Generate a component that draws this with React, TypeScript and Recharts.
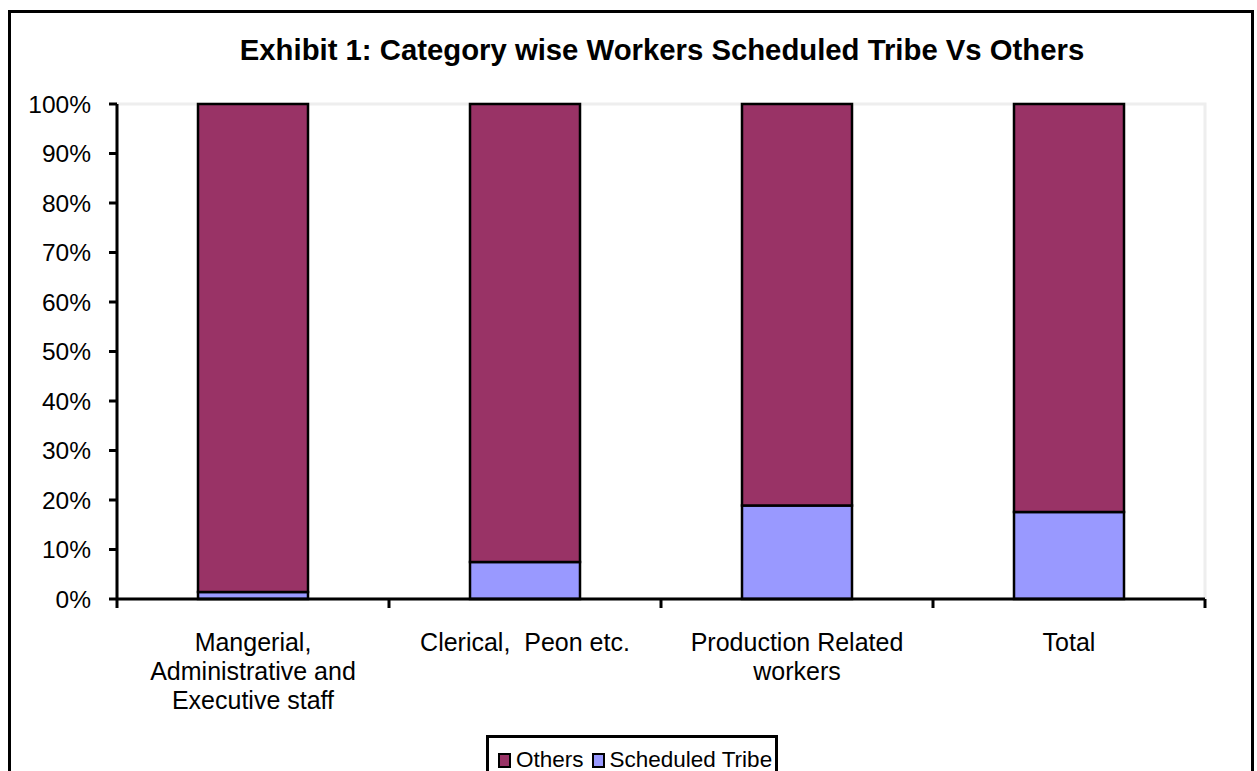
import React from "react";
import { BarChart, Bar, XAxis, YAxis, Legend, ReferenceArea } from "recharts";

const categories = [
  "Mangerial,\nAdministrative and\nExecutive staff",
  "Clerical,  Peon etc.",
  "Production Related\nworkers",
  "Total",
];
const scheduledTribe = [1.4, 7.5, 18.9, 17.6];
const others = [98.6, 92.5, 81.1, 82.4];
const yTicks = [0, 10, 20, 30, 40, 50, 60, 70, 80, 90, 100];
const seriesNames = { others: "Others", st: "Scheduled Tribe" };
const title = "Exhibit 1: Category wise Workers Scheduled Tribe Vs Others";

const data = categories.map((c, i) => ({
  category: c,
  st: scheduledTribe[i],
  others: others[i],
}));

const FONT = "'Liberation Sans', Arial, sans-serif";
const OTHERS_COLOR = "#993366";
const ST_COLOR = "#9999FF";
const BAND = 272;

const XTick = (props: any) => {
  const { x, y, payload, index } = props;
  const lines = String(payload.value).split("\n");
  return (
    <g>
      <line x1={x - BAND / 2} x2={x - BAND / 2} y1={y} y2={y + 9} stroke="#000" strokeWidth={3} />
      {index === categories.length - 1 && (
        <line x1={x + BAND / 2} x2={x + BAND / 2} y1={y} y2={y + 9} stroke="#000" strokeWidth={3} />
      )}
      <text
        x={x}
        y={y + 52}
        textAnchor="middle"
        fontSize={25}
        fontFamily={FONT}
        fill="#000"
        style={{ whiteSpace: "pre" }}
      >
        {lines.map((l, i) => (
          <tspan key={i} x={x} dy={i === 0 ? 0 : 29}>
            {l}
          </tspan>
        ))}
      </text>
    </g>
  );
};

const LegendContent = () => (
  <div
    style={{
      border: "3px solid #000",
      boxSizing: "border-box",
      width: 292,
      height: 60,
      display: "flex",
      alignItems: "flex-start",
      paddingLeft: 9,
      paddingTop: 10,
      fontFamily: FONT,
      fontSize: 22.5,
      color: "#000",
      background: "#fff",
      whiteSpace: "nowrap",
      overflow: "hidden",
    }}
  >
    {[
      { name: seriesNames.others, color: OTHERS_COLOR },
      { name: seriesNames.st, color: ST_COLOR },
    ].map((it, i) => (
      <div key={i} style={{ display: "flex", alignItems: "center", marginRight: i === 0 ? 8 : 0 }}>
        <div
          style={{
            width: 9,
            height: 11,
            background: it.color,
            border: "2px solid #000",
            marginRight: 5,
            flex: "none",
          }}
        />
        <span style={{ lineHeight: "24px" }}>{it.name}</span>
      </div>
    ))}
  </div>
);

export default function App() {
  return (
    <div
      style={{
        position: "absolute",
        left: 0,
        top: 0,
        width: 1257,
        height: 771,
        overflow: "hidden",
        background: "#fff",
      }}
    >
      <div
        style={{
          position: "absolute",
          left: 8,
          top: 10,
          width: 1246,
          height: 800,
          border: "3px solid #000",
          boxSizing: "border-box",
        }}
      />
      <div style={{ position: "absolute", left: 0, top: 0 }}>
        <BarChart
          width={1257}
          height={771}
          data={data}
          margin={{ top: 104, right: 52, bottom: 72, left: 57 }}
          barCategoryGap={0}
        >
          <text x={662} y={60} textAnchor="middle" fontSize={29.3} fontWeight="bold" fontFamily={FONT} fill="#000">
            {title}
          </text>
          <ReferenceArea y1={0} y2={100} stroke="#eeeeee" strokeWidth={3} fill="none" ifOverflow="visible" />
          <XAxis
            dataKey="category"
            interval={0}
            height={100}
            tickLine={false}
            tickSize={0}
            tickMargin={0}
            axisLine={{ stroke: "#000", strokeWidth: 3 }}
            tick={<XTick />}
          />
          <YAxis
            width={60}
            domain={[0, 100]}
            ticks={yTicks}
            interval={0}
            tickFormatter={(v: number) => `${v}%`}
            tickSize={8}
            tickMargin={18}
            axisLine={{ stroke: "#000", strokeWidth: 3 }}
            tickLine={{ stroke: "#000", strokeWidth: 3 }}
            tick={{ fontSize: 24.5, fontFamily: FONT, fill: "#000" }}
          />
          <Legend
            verticalAlign="middle"
            layout="horizontal"
            content={<LegendContent />}
            wrapperStyle={{ left: 486, top: 735, width: 292, height: 60 }}
          />
          <Bar dataKey="st" name={seriesNames.st} stackId="a" fill={ST_COLOR} stroke="#000" strokeWidth={2.5} barSize={110} isAnimationActive={false} />
          <Bar dataKey="others" name={seriesNames.others} stackId="a" fill={OTHERS_COLOR} stroke="#000" strokeWidth={2.5} barSize={110} isAnimationActive={false} />
        </BarChart>
      </div>
    </div>
  );
}
